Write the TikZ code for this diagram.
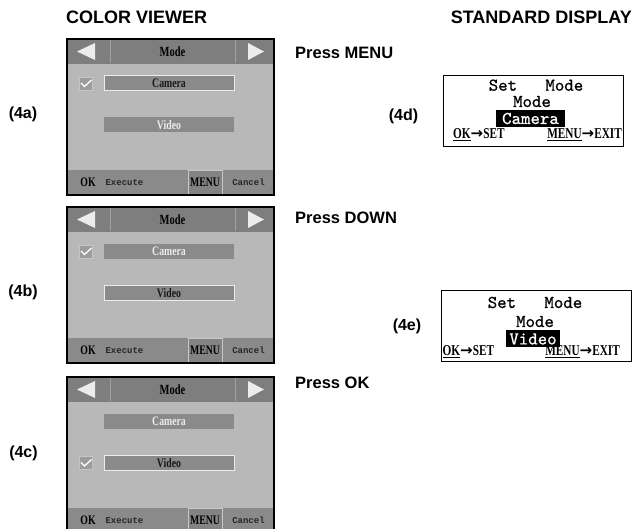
\documentclass[tikz,border=0pt]{standalone}
\usepackage{fontspec}
\setmainfont{Liberation Sans}
\newfontfamily\arrowfont{DejaVu Sans}
\newfontfamily\cvcond[FakeStretch=0.75]{Liberation Serif}
\newfontfamily\cvmono{Liberation Mono}
\newfontfamily\lcdfont[FakeBold=0.8]{lmmono10-regular.otf}
\definecolor{hdr}{HTML}{7E7E7E}
\definecolor{bodyg}{HTML}{B8B8B8}
\definecolor{barg}{HTML}{8A8A8A}
\definecolor{ftr}{HTML}{8A8A8A}
\definecolor{lite}{HTML}{ECECEC}
\definecolor{txtd}{HTML}{262626}
\definecolor{sepc}{HTML}{A0A0A0}
\definecolor{chkc}{HTML}{9C9C9C}
\definecolor{chkb}{HTML}{C4C4C4}
\definecolor{menuc}{HTML}{838383}
\definecolor{menub}{HTML}{C8C8C8}
\newcommand\rarr{{\arrowfont\bfseries\fontsize{15}{15}\selectfont →}}
\tikzset{
 sepline/.style={draw=sepc, line width=0.8pt},
 hdrtxt/.style={font=\cvcond\bfseries\fontsize{14}{14}\selectfont, text=black, inner sep=0},
 barbase/.style={minimum width=130pt, minimum height=15pt, inner sep=0, fill=barg, font=\cvcond\bfseries\fontsize{13}{13}\selectfont},
 selbar/.style={barbase, draw=lite, line width=1pt, text=black!90},
 plainbar/.style={barbase, text=lite},
 chkbox/.style={minimum size=13pt, inner sep=0, fill=chkc, draw=chkb, line width=0.6pt},
 chkmark/.style={draw=white, line width=1.3pt},
 oktxt/.style={font=\cvcond\bfseries\fontsize{13}{13}\selectfont, inner sep=0},
 ftxt/.style={font=\cvmono\bfseries\fontsize{9}{9}\selectfont, text=txtd, inner sep=0},
 menubox/.style={minimum width=34pt, minimum height=24pt, inner sep=0, fill=menuc, draw=menub, line width=0.8pt, font=\cvcond\bfseries\fontsize{13}{13}\selectfont},
 lcdbox/.style={draw, line width=1pt, fill=white, inner sep=0, anchor=north west},
 lcd/.style={font=\lcdfont\fontsize{18}{18}\selectfont, inner sep=0, anchor=base},
 inv/.style={font=\lcdfont\fontsize{18}{18}\selectfont, inner sep=0, anchor=center, fill=black, text=white, minimum height=17pt},
 lcdb/.style={font=\cvcond\bfseries\fontsize{15}{15}\selectfont, inner sep=0},
 lbl/.style={font=\bfseries\fontsize{16}{16}\selectfont, inner sep=0},
 ptxt/.style={font=\bfseries\fontsize{16.5}{16.5}\selectfont, inner sep=0, anchor=base west},
 htxt/.style={font=\bfseries\fontsize{18}{18}\selectfont, inner sep=0},
}
% #1 name prefix, #2 top, #3 camera bar style, #4 video bar style, #5 check y
\newcommand\cvscreen[5]{%
\begin{scope}[shift={(0,#2)}]
 \fill[bodyg] (67,0) rectangle (274,156);
 \fill[hdr] (67,0) rectangle (274,25);
 \fill[ftr] (67,131) rectangle (274,156);
 \draw[sepline] (110,1) -- (110,24);
 \draw[sepline] (235,1) -- (235,24);
 \fill[lite] (77,12.5) -- (95,4) -- (95,21) -- cycle;
 \fill[lite] (264,12.5) -- (248,4) -- (248,21) -- cycle;
 \node[hdrtxt] (#1mode) at (172.5,13) {Mode};
 \node[#3] (#1cam) at (169,44.5) {Camera};
 \node[#4] (#1vid) at (169,86) {Video};
 \node[chkbox] (#1chk) at (86,#5) {};
 \draw[chkmark] ([xshift=-5pt,yshift=0.5pt]#1chk.center) -- ([xshift=-1.5pt,yshift=-3pt]#1chk.center) -- ([xshift=5.5pt,yshift=3.5pt]#1chk.center);
 \node[oktxt] (#1ok) at (88,143.5) {OK};
 \node[ftxt] (#1exe) at (124.5,143.5) {Execute};
 \node[menubox] (#1menu) at (205,143.5) {MENU};
 \node[ftxt] (#1can) at (248.5,143.5) {Cancel};
 \draw[line width=2pt] (67,0) rectangle (274,156);
\end{scope}}
\begin{document}
\begin{tikzpicture}[x=1pt,y=-1pt]
\useasboundingbox[fill=white] (0,0) rectangle (633,529);
\clip (0,0) rectangle (633,529);
% headings
\node[htxt, anchor=base west] (hcv) at (66,23.5) {COLOR VIEWER};
\node[htxt, anchor=base east] (hsd) at (632,23.5) {STANDARD DISPLAY};
% colour viewer screens
\cvscreen{a}{39}{selbar}{plainbar}{44.5}
\cvscreen{b}{207}{plainbar}{selbar}{44.5}
\cvscreen{c}{377}{plainbar}{selbar}{86}
% labels
\node[lbl] (la) at (23,114) {(4a)};
\node[lbl] (lb) at (23,292) {(4b)};
\node[lbl] (lc) at (23.5,453) {(4c)};
\node[lbl] (ld) at (403.5,116) {(4d)};
\node[lbl] (le) at (407,326.5) {(4e)};
% press texts
\node[ptxt] (pm) at (295,58.3) {Press MENU};
\node[ptxt] (pd) at (295,224) {Press DOWN};
\node[ptxt] (po) at (295,389) {Press OK};
% standard display (4d)
\node[lcdbox, minimum width=180pt, minimum height=71pt] (dbox) at (443,75) {};
\node[lcd] (dset) at (536,90.7) {Set\ \ \ Mode};
\node[lcd] (dmode) at (532,107) {Mode};
\node[inv, minimum width=69pt] (dcam) at (530.5,118.5) {Camera};
\node[lcdb, anchor=base west] (dok) at (453,138.5) {\underline{OK}\rarr SET};
\node[lcdb, anchor=base east] (dmn) at (622,138.5) {\underline{MENU}\rarr EXIT};
% standard display (4e)
\node[lcdbox, minimum width=190pt, minimum height=71pt] (ebox) at (441,290) {};
\node[lcd] (eset) at (535,308) {Set\ \ \ Mode};
\node[lcd] (emode) at (535,327) {Mode};
\node[inv, minimum width=54pt] (evid) at (533,339) {Video};
\node[lcdb, anchor=base west] (eok) at (442.5,355.5) {\underline{OK}\rarr SET};
\node[lcdb, anchor=base east] (emn) at (620,355.5) {\underline{MENU}\rarr EXIT};
\end{tikzpicture}
\end{document}
